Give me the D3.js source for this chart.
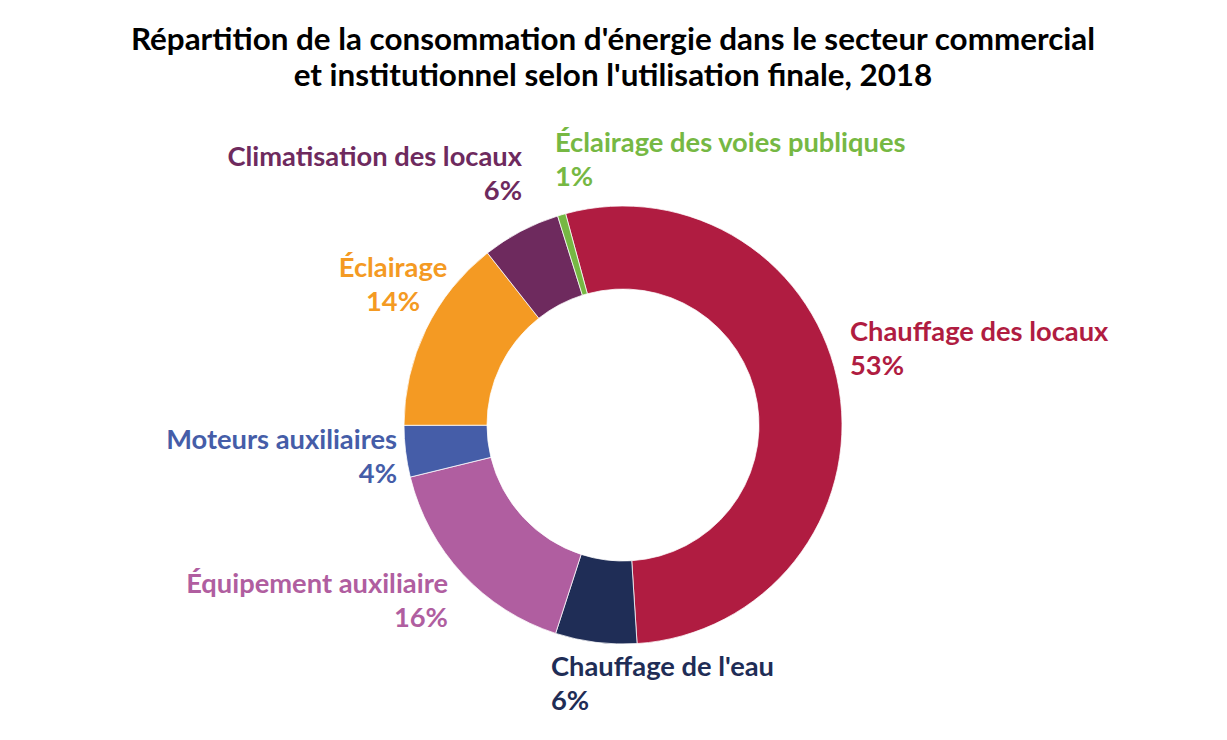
<!DOCTYPE html>
<html lang="fr">
<head>
	<meta charset="UTF-8">
	<title>Consommation d'énergie 2018</title>
	<style>
		body { margin: 0; background: #fff; }
		text { font-family: Lato, "Open Sans", sans-serif; font-weight: bold; }
	</style>
	<script src="https://d3js.org/d3.v7.min.js"></script>
</head>
<body>
	<script type="text/javascript">
		const width = 1227
		const height = 740

//data (share of total, %)
		const categories = ["Chauffage des locaux", "Chauffage de l'eau", "Équipement auxiliaire", "Moteurs auxiliaires", "Éclairage", "Climatisation des locaux", "Éclairage des voies publiques"]
		const values = [53.2, 6.0, 16.2, 3.8, 14.4, 5.8, 0.6]
		const pctLabels = ["53%", "6%", "16%", "4%", "14%", "6%", "1%"]
		const colors = ["#B01C41", "#1F2D56", "#B05EA0", "#455DA8", "#F49A23", "#6E2A5E", "#76B843"]

//label layout: x, baseline of first line, anchor
		const labelPos = [
			[850, 341, "start"],
			[551, 676, "start"],
			[448, 593, "end"],
			[397, 449, "end"],
			[393, 277, "middle"],
			[522, 166, "end"],
			[555, 152, "start"]
		]

		const svg = d3.select("body").append("svg")
			.attr("width", width)
			.attr("height", height)

//title
		const title = ["Répartition de la consommation d'énergie dans le secteur commercial", "et institutionnel selon l'utilisation finale, 2018"]
		svg.selectAll(".title")
			.data(title)
			.join("text")
			.attr("class", "title")
			.attr("x", 613)
			.attr("y", (d, i) => 50 + i * 36)
			.attr("text-anchor", "middle")
			.style("font-size", "31.4px")
			.style("fill", "#000")
			.text(d => d)

//donut
		const cx = 623, cy = 425
		const outerR = 219, innerR = 136
		const start = -15.2 * Math.PI / 180

		const pie = d3.pie()
			.sort(null)
			.startAngle(start)
			.endAngle(start + 2 * Math.PI)
			.value(d => d)

		const arc = d3.arc()
			.innerRadius(innerR)
			.outerRadius(outerR)

		const g = svg.append("g")
			.attr("transform", "translate(" + cx + "," + cy + ")")

		g.selectAll(".slice")
			.data(pie(values))
			.join("path")
			.attr("class", "slice")
			.attr("d", arc)
			.style("fill", (d, i) => colors[i])
			.style("stroke", "white")
			.style("stroke-width", 0.75)

//labels
		const labels = svg.selectAll(".label")
			.data(categories)
			.join("text")
			.attr("class", "label")
			.attr("text-anchor", (d, i) => labelPos[i][2])
			.style("font-size", "27.3px")
			.style("fill", (d, i) => colors[i])

		labels.append("tspan")
			.attr("x", (d, i) => labelPos[i][0])
			.attr("y", (d, i) => labelPos[i][1])
			.text(d => d)

		labels.append("tspan")
			.attr("x", (d, i) => labelPos[i][0])
			.attr("y", (d, i) => labelPos[i][1] + 34)
			.text((d, i) => pctLabels[i])
	</script>
</body>
</html>
